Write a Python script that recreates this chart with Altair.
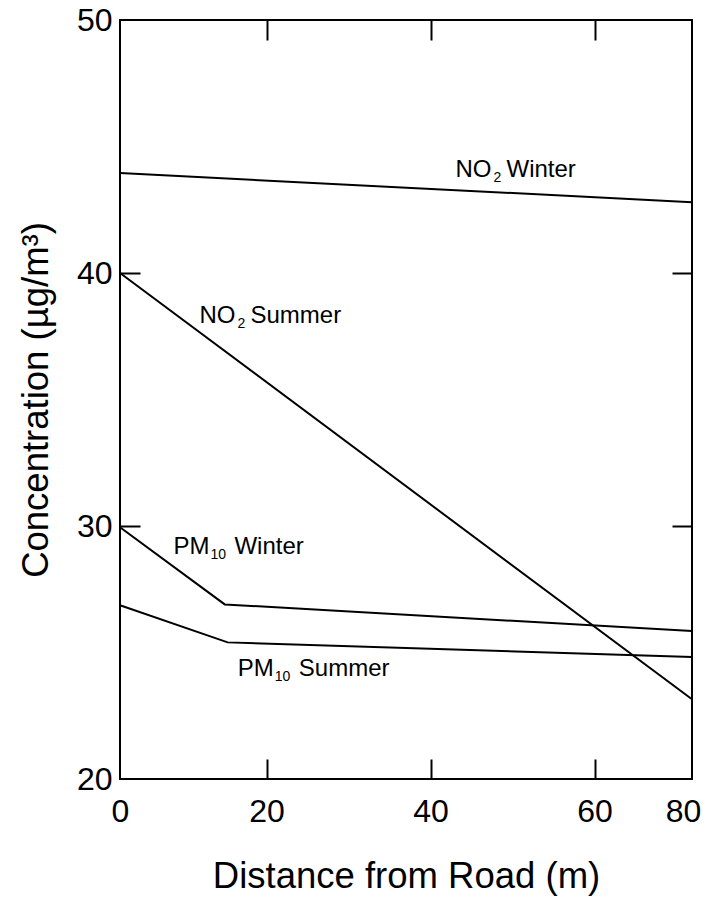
import altair as alt
import pandas as pd

FONT = "Liberation Sans"

# Concentration profiles with distance from the road
no2_winter_x = [0, 80]
no2_winter_y = [43.95, 42.8]
no2_summer_x = [0, 80]
no2_summer_y = [40.0, 23.15]
pm10_winter_x = [0, 14.3, 80]
pm10_winter_y = [29.95, 26.9, 25.85]
pm10_summer_x = [0, 14.7, 80]
pm10_summer_y = [26.87, 25.4, 24.82]

series = {
    "NO2 Winter": (no2_winter_x, no2_winter_y),
    "NO2 Summer": (no2_summer_x, no2_summer_y),
    "PM10 Winter": (pm10_winter_x, pm10_winter_y),
    "PM10 Summer": (pm10_summer_x, pm10_summer_y),
}

# Curve labels: chemical symbol, subscript, season, anchor in data units
label_prefix = ["NO", "NO", "PM", "PM"]
label_sub = ["2", "2", "10", "10"]
label_rest = ["Winter", "Summer", "Winter", "Summer"]
label_x = [43.05, 10.85, 7.3, 16.08]
label_y = [43.78, 38.04, 28.9, 24.08]

x_ticks = [0, 20, 40, 60, 80]
y_ticks = [20, 30, 40, 50]
x_inner_ticks = [20, 40, 60]
y_inner_ticks = [30, 40]

W, H = 572, 759

rows = []
for name, (xs, ys) in series.items():
    for i, (xv, yv) in enumerate(zip(xs, ys)):
        rows.append({"series": name, "distance": xv, "conc": yv, "order": i})
lines_df = pd.DataFrame(rows)

labels_df = pd.DataFrame({
    "lx": label_x, "ly": label_y,
    "prefix": label_prefix, "sub": label_sub, "rest": label_rest,
})

x_scale = alt.Scale(domain=x_ticks, range=[0, 146.5, 310.5, 474.5, W], nice=False, zero=False)
y_scale = alt.Scale(domain=[20, 50], nice=False, zero=False)

x_main_axis = alt.Axis(
    values=x_ticks, format="d", ticks=False, tickSize=0, domain=False, grid=False,
    labelFlush=False, labelOverlap=False,
    labelFont=FONT, labelFontSize=32, labelColor="black", labelPadding=17,
    labelOffset={"condition": {"test": "datum.value == 80", "value": -9}, "value": 0},
    title="Distance from Road (m)", titleFont=FONT, titleFontSize=36.5,
    titleFontWeight="normal", titleColor="black", titlePadding=31,
)
y_main_axis = alt.Axis(
    values=y_ticks, format="d", ticks=False, tickSize=0, domain=False, grid=False,
    labelFlush=False, labelOverlap=False,
    labelFont=FONT, labelFontSize=32, labelColor="black", labelPadding=8,
    title="Concentration (µg/m³)", titleFont=FONT, titleFontSize=36.5,
    titleFontWeight="normal", titleColor="black", titlePadding=21,
)


def inner_ticks(values, orient, offset):
    return alt.Axis(
        values=values, orient=orient, offset=offset, labels=False, domain=False,
        grid=False, ticks=True, tickSize=20, tickWidth=2, tickColor="black", title=None,
    )


lines = alt.Chart(lines_df).mark_line(color="black", strokeWidth=2).encode(
    x=alt.X("distance:Q", scale=x_scale, axis=x_main_axis),
    y=alt.Y("conc:Q", scale=y_scale, axis=y_main_axis),
    detail="series:N",
    order="order:Q",
)

text_base = alt.Chart(labels_df)
MAIN_SIZE = 24
SUB_SIZE = 14

prefix_text = text_base.mark_text(
    align="left", baseline="alphabetic", font=FONT, fontSize=MAIN_SIZE, color="black"
).encode(
    x=alt.X("lx:Q", axis=inner_ticks(x_inner_ticks, "top", -H)),
    y=alt.Y("ly:Q", axis=inner_ticks(y_inner_ticks, "right", -W)),
    text="prefix:N",
)

no_sub = text_base.transform_filter("datum.prefix == 'NO'").mark_text(
    align="left", baseline="alphabetic", font=FONT, fontSize=SUB_SIZE, color="black", dx=38, dy=5
).encode(
    x=alt.X("lx:Q", axis=inner_ticks(x_inner_ticks, "bottom", -H)),
    y=alt.Y("ly:Q", axis=inner_ticks(y_inner_ticks, "left", -W)),
    text="sub:N",
)

pm_sub = text_base.transform_filter("datum.prefix == 'PM'").mark_text(
    align="left", baseline="alphabetic", font=FONT, fontSize=SUB_SIZE, color="black", dx=37, dy=5
).encode(
    x=alt.X("lx:Q", axis=None), y=alt.Y("ly:Q", axis=None), text="sub:N"
)

no_rest = text_base.transform_filter("datum.prefix == 'NO'").mark_text(
    align="left", baseline="alphabetic", font=FONT, fontSize=MAIN_SIZE, color="black", dx=51
).encode(
    x=alt.X("lx:Q", axis=None), y=alt.Y("ly:Q", axis=None), text="rest:N"
)

pm_rest = text_base.transform_filter("datum.prefix == 'PM'").mark_text(
    align="left", baseline="alphabetic", font=FONT, fontSize=MAIN_SIZE, color="black", dx=61
).encode(
    x=alt.X("lx:Q", axis=None), y=alt.Y("ly:Q", axis=None), text="rest:N"
)

chart = alt.layer(
    lines, prefix_text, no_sub, pm_sub, no_rest, pm_rest
).resolve_axis(
    x="independent", y="independent"
).properties(
    width=W, height=H,
    padding={"left": 120, "top": 20, "right": 20, "bottom": 119},
    autosize=alt.AutoSizeParams(type="none"),
    background="white",
).configure_view(
    stroke="black", strokeWidth=2
)

chart.save("out.html", embed_options={"renderer": "svg", "actions": False})
